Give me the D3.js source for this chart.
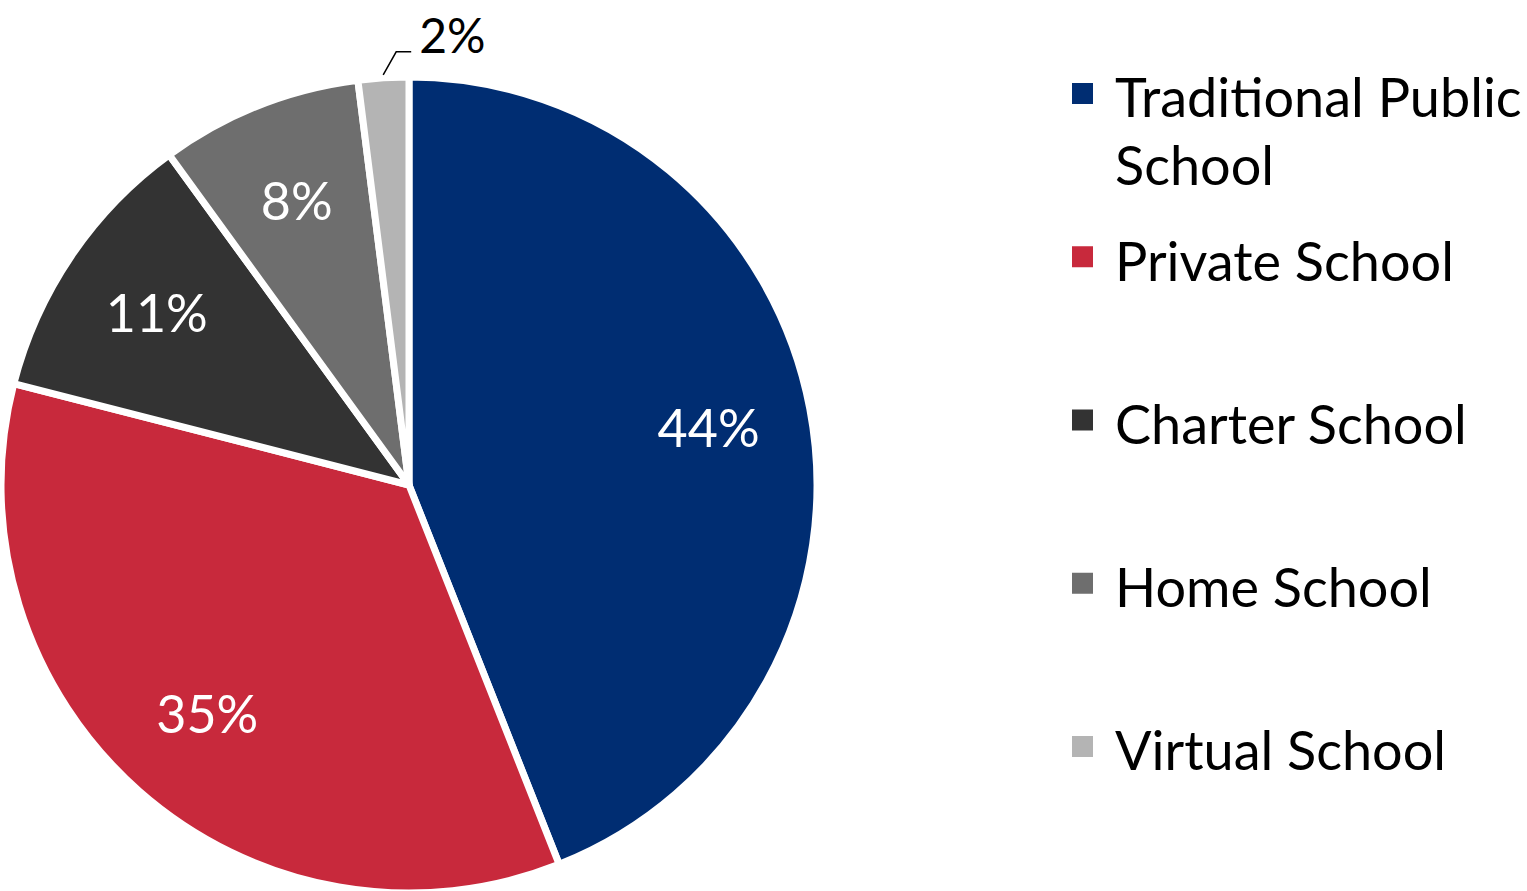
<!DOCTYPE html>
<html>
<head>
<meta charset="utf-8">
<script src="https://cdn.jsdelivr.net/npm/d3@7"></script>
<style>
body { margin: 0; background: #fff; }
svg { font-family: Lato, "Open Sans", sans-serif; }
</style>
</head>
<body>
<script>
  // data
  var categories = ["Traditional Public School", "Private School", "Charter School", "Home School", "Virtual School"];
  var values = [44, 35, 11, 8, 2];
  var labels = ["44%", "35%", "11%", "8%", "2%"];
  var legendLines = [["Traditional Public", "School"], ["Private School"], ["Charter School"], ["Home School"], ["Virtual School"]];
  var colors = ["#002D72", "#C8293C", "#333333", "#6E6E6E", "#B4B4B4"];

  var width = 1527, height = 891;
  var cx = 409, cy = 485, radius = 408;

  var svg = d3.select("body").append("svg").attr("width", width).attr("height", height);
  var g = svg.append("g").attr("transform", "translate(" + cx + "," + cy + ")");

  var color = d3.scaleOrdinal().domain(categories).range(colors);

  var pie = d3.pie().value(function(d, i) { return values[i]; }).sort(null);
  var arcs = pie(categories);

  var arc = d3.arc().innerRadius(0).outerRadius(radius);
  var labelArc = d3.arc().innerRadius(305).outerRadius(305);

  g.selectAll(".slice")
    .data(arcs)
    .enter().append("path")
    .attr("class", "slice")
    .attr("d", arc)
    .attr("fill", function(d) { return color(d.data); })
    .attr("stroke", "#fff")
    .attr("stroke-width", 7)
    .attr("stroke-linejoin", "round");

  // inside labels (all but the tiny slice)
  g.selectAll(".lbl")
    .data(arcs.filter(function(d) { return d.index < 4; }))
    .enter().append("text")
    .attr("class", "lbl")
    .attr("transform", function(d) { return "translate(" + labelArc.centroid(d) + ")"; })
    .attr("dy", "0.36em")
    .attr("text-anchor", "middle")
    .attr("fill", "#fff")
    .attr("font-size", 52)
    .text(function(d) { return labels[d.index]; });

  // small slice: outside label with leader line
  var small = arcs[4];
  var mid = (small.startAngle + small.endAngle) / 2;
  var p0 = [Math.sin(mid) * (radius + 3), -Math.cos(mid) * (radius + 3)];
  var p1 = [p0[0] + 13, p0[1] - 23];
  var p2 = [p1[0] + 15, p1[1]];
  g.append("polyline")
    .attr("points", [p0, p1, p2].map(function(p) { return p.join(","); }).join(" "))
    .attr("fill", "none")
    .attr("stroke", "#000")
    .attr("stroke-width", 1.5);
  g.append("text")
    .attr("x", p2[0] + 8)
    .attr("y", p2[1])
    .attr("dy", "0.02em")
    .attr("fill", "#000")
    .attr("font-size", 48)
    .text(labels[4]);

  // legend
  var legend = svg.append("g");
  var legendY = d3.scaleLinear().domain([0, 4]).range([93, 746]);
  var item = legend.selectAll(".item")
    .data(categories)
    .enter().append("g")
    .attr("class", "item")
    .attr("transform", function(d, i) { return "translate(1072," + legendY(i) + ")"; });

  item.append("rect")
    .attr("x", 0).attr("y", -10)
    .attr("width", 21).attr("height", 21)
    .attr("fill", function(d) { return color(d); });

  item.append("text")
    .attr("x", 43)
    .attr("y", 0)
    .attr("font-size", 54)
    .attr("fill", "#000")
    .selectAll("tspan")
    .data(function(d, i) { return legendLines[i]; })
    .enter().append("tspan")
    .attr("x", 43)
    .attr("dy", function(d, j) { return j === 0 ? "0.45em" : "1.26em"; })
    .text(function(d) { return d; });
</script>
</body>
</html>
